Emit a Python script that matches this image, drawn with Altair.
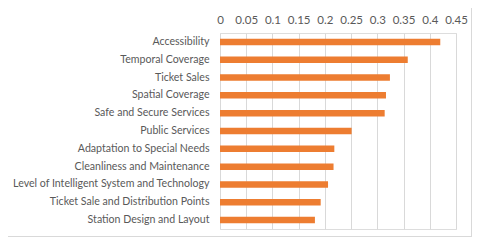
import altair as alt
import pandas as pd

categories = [
    "Accessibility",
    "Temporal Coverage",
    "Ticket Sales",
    "Spatial Coverage",
    "Safe and Secure Services",
    "Public Services",
    "Adaptation to Special Needs",
    "Cleanliness and Maintenance",
    "Level of Intelligent System and Technology",
    "Ticket Sale and Distribution Points",
    "Station Design and Layout",
]
values = [0.42, 0.358, 0.324, 0.3165, 0.314, 0.251, 0.218, 0.2165, 0.206, 0.192, 0.181]
tick_values = [0, 0.05, 0.1, 0.15, 0.2, 0.25, 0.3, 0.35, 0.4, 0.45]

df = pd.DataFrame({"category": categories, "value": values})

W, H = 236, 196
PAD_L, PAD_T = 212, 25
PAD_R, PAD_B = 16, 8

bars = alt.Chart(df).mark_bar(color="#ED7D31", size=6.5).encode(
    x=alt.X("value:Q",
            scale=alt.Scale(domain=[0, 0.45], nice=False),
            axis=alt.Axis(orient="top", values=tick_values, title=None,
                          domain=False, ticks=False, grid=True,
                          gridColor="#d9d9d9", labelColor="#595959",
                          labelFont="Lato", labelFontSize=11.5,
                          labelPadding=8, labelFlush=False,
                          labelExpr="datum.value == 0 ? '0' : format(datum.value, '~g')")),
    y=alt.Y("category:N", sort=categories,
            axis=alt.Axis(title=None, domain=False, ticks=False,
                          labelColor="#595959", labelFont="Lato",
                          labelFontSize=10.6, labelPadding=11, labelLimit=300)),
)

border_right = alt.Chart(df).mark_rule(color="#d9d9d9", strokeWidth=1, clip=False).encode(
    x=alt.value(W + PAD_R - 0.5), y=alt.value(-PAD_T), y2=alt.value(H + PAD_B - 0.5),
)
border_bottom = alt.Chart(df).mark_rule(color="#d9d9d9", strokeWidth=1, clip=False).encode(
    x=alt.value(-PAD_L), x2=alt.value(W + PAD_R - 0.5), y=alt.value(H + PAD_B - 0.5),
)

chart = alt.layer(border_right, border_bottom, bars).properties(
    width=W, height=H,
    autosize=alt.AutoSizeParams(type="none"),
    padding={"left": PAD_L, "top": PAD_T, "right": PAD_R, "bottom": PAD_B},
).configure_view(stroke=None).configure(background="white")

chart.save("out.html", embed_options={"renderer": "svg", "actions": False})
